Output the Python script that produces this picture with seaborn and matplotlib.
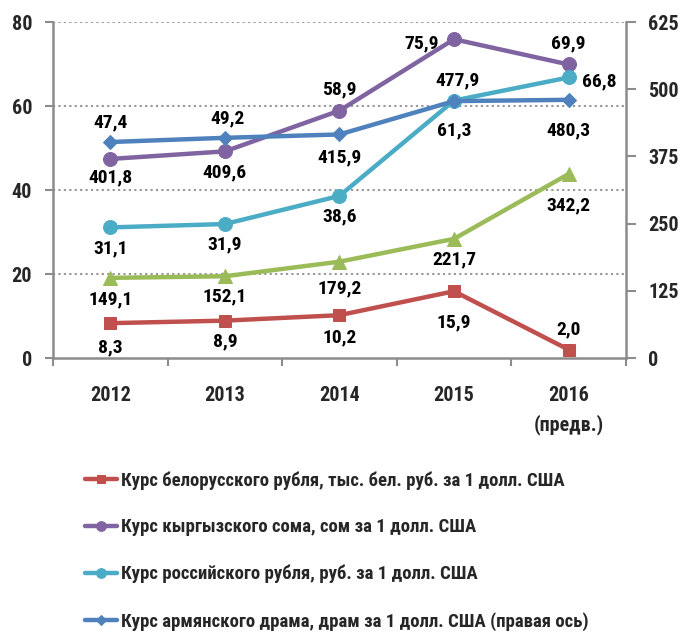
import matplotlib
matplotlib.use('Agg')
import matplotlib.pyplot as plt
from matplotlib import font_manager
from matplotlib.ticker import FixedLocator
import seaborn as sns

# данные
years = ['2012', '2013', '2014', '2015', '2016\n(предв.)']
byn = [8.3, 8.9, 10.2, 15.9, 2.0]
kgs = [47.4, 49.2, 58.9, 75.9, 69.9]
rub = [31.1, 31.9, 38.6, 61.3, 66.8]
amd = [401.8, 409.6, 415.9, 477.9, 480.3]
kzt = [149.1, 152.1, 179.2, 221.7, 342.2]

labels_legend = [
    'Курс белорусского рубля, тыс. бел. руб. за 1 долл. США',
    'Курс кыргызского сома, сом за 1 долл. США',
    'Курс российского рубля, руб. за 1 долл. США',
    'Курс армянского драма, драм за 1 долл. США (правая ось)',
]

sns.set_theme(style='white')
names = {f.name for f in font_manager.fontManager.ttflist}
fam = [f for f in ['Liberation Sans Narrow', 'Roboto Condensed', 'DejaVu Sans'] if f in names]
plt.rcParams['font.family'] = fam + ['DejaVu Sans']
plt.rcParams['font.weight'] = 'bold'

FS = 14.5   # оси
FL = 14     # подписи значений
FG = 13.5   # легенда
GRAY = '#8c8c8c'
x = list(range(len(years)))

fig = plt.figure(figsize=(6.84, 6.33), dpi=100)
ax = fig.add_axes([0.0775, 0.4344, 0.8375, 0.5308])
ax2 = ax.twinx()

# подписи: смещения в пикселях
off_byn = [(0, -24), (0, -21), (0, -22), (0, -31), (0, 20)]
off_kgs = [(0, 37), (3, 33), (0, 21), (-32, -4), (0, 21)]
off_rub = [(0, -21), (0, -20), (0, -20), (0, -30), (31, -4)]
off_amd = [(0, -35), (0, -35), (0, -23), (3, 21), (0, -31)]
off_kzt = [(0, -22), (0, -20), (0, -27), (0, -21), (0, -31)]

series = [
    (ax, byn, '#C0504D', 's', 9, off_byn, labels_legend[0]),
    (ax, kgs, '#8064A2', 'o', 10, off_kgs, labels_legend[1]),
    (ax, rub, '#4BACC6', 'o', 10, off_rub, labels_legend[2]),
    (ax2, amd, '#4F81BD', 'D', 7, off_amd, labels_legend[3]),
    (ax2, kzt, '#9BBB59', '^', 10, off_kzt, None),
]

handles = []
for a, vals, col, mk, ms, offs, lab in series:
    sns.lineplot(x=x, y=vals, ax=a, color=col, marker=mk, markersize=ms,
                 markeredgecolor=col, linewidth=3.2, legend=False)
    line = a.lines[-1]
    if lab is not None:
        handles.append((line, lab))
    for xi, v, (dx, dy) in zip(x, vals, offs):
        a.annotate(f'{v:.1f}'.replace('.', ','), (xi, v), textcoords='offset pixels',
                   xytext=(dx, dy), ha='center', va='center', fontsize=FL,
                   fontweight='bold', color='black')

ax.set_xlim(-0.5, 4.5)
ax.set_ylim(0, 80)
ax2.set_ylim(0, 625)
ax.set_yticks([0, 20, 40, 60, 80])
ax2.set_yticks([0, 125, 250, 375, 500, 625])
ax.set_xticks(x)
ax.set_xticklabels(years, linespacing=1.6)
ax.xaxis.set_minor_locator(FixedLocator([-0.5, 0.5, 1.5, 2.5, 3.5, 4.5]))
ax.tick_params(axis='x', which='major', length=0, pad=20, labelsize=FS)
ax.tick_params(axis='x', which='minor', length=6, width=1.5, color=GRAY, direction='out', bottom=True)
ax.tick_params(axis='y', length=6, width=1.5, color=GRAY, direction='out', left=True, pad=9, labelsize=FS)
ax2.tick_params(axis='y', length=7, width=1.5, color=GRAY, direction='out', right=True, pad=9, labelsize=FS)
for t in ax.get_xticklabels() + ax.get_yticklabels() + ax2.get_yticklabels():
    t.set_fontweight('bold')
ax.set_xlabel('')
ax.set_ylabel('')
ax2.set_ylabel('')

for g in [20, 40, 60, 80]:
    ax.axhline(g, color=GRAY, linestyle=(0, (1.2, 1.8)), linewidth=1.3, zorder=0)

for a in (ax, ax2):
    for s in a.spines.values():
        s.set_visible(False)
ax.spines['left'].set_visible(True)
ax.spines['bottom'].set_visible(True)
ax2.spines['right'].set_visible(True)
for s in (ax.spines['left'], ax.spines['bottom'], ax2.spines['right']):
    s.set_color(GRAY)
    s.set_linewidth(1.8)

fig.legend([h for h, _ in handles], [l for _, l in handles], loc='upper left',
           bbox_to_anchor=(0.105, 0.276), frameon=False,
           labelspacing=1.52, handlelength=1.7, handletextpad=0.2, markerscale=0.7,
           borderpad=0.2, prop={'weight': 'bold', 'size': FG})

fig.savefig('out.png', dpi=100)
